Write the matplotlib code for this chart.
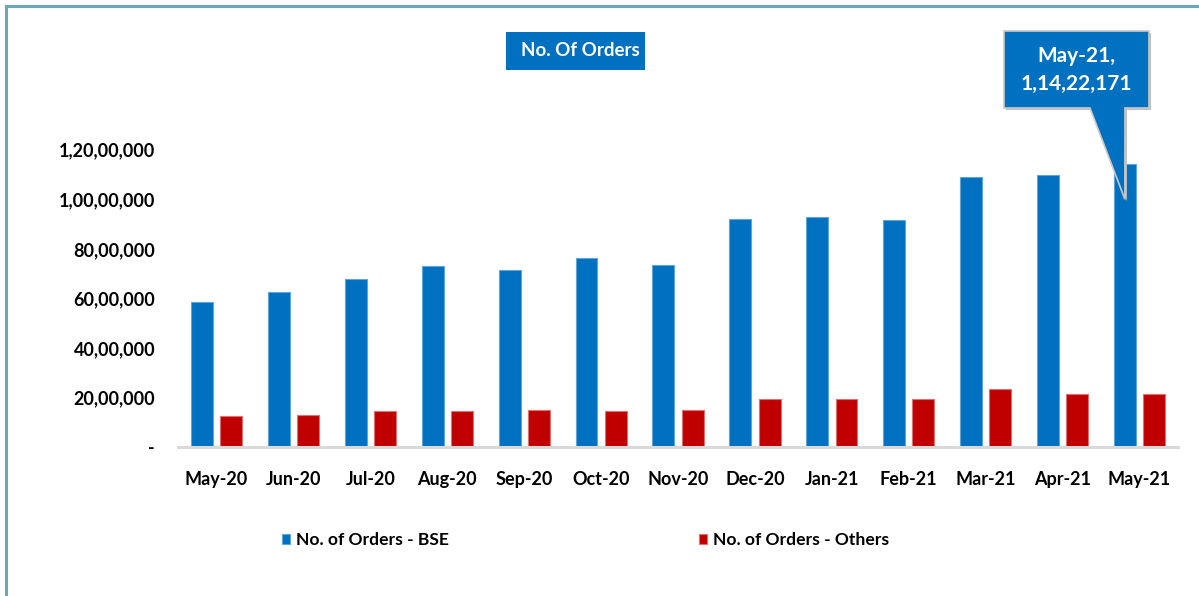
import matplotlib
matplotlib.use("Agg")
import matplotlib.pyplot as plt
from matplotlib.patches import Polygon, Rectangle
from matplotlib.lines import Line2D
from matplotlib.ticker import FuncFormatter, MultipleLocator
import numpy as np

plt.rcParams['font.family'] = ['Lato', 'DejaVu Sans']
plt.rcParams['font.weight'] = 'bold'

months = ["May-20", "Jun-20", "Jul-20", "Aug-20", "Sep-20", "Oct-20", "Nov-20",
          "Dec-20", "Jan-21", "Feb-21", "Mar-21", "Apr-21", "May-21"]
orders_bse = [5850000, 6260000, 6770000, 7300000, 7140000, 7620000, 7350000,
              9220000, 9270000, 9170000, 10900000, 11000000, 11422171]
orders_others = [1250000, 1290000, 1450000, 1450000, 1500000, 1460000, 1520000,
                 1940000, 1940000, 1940000, 2370000, 2160000, 2160000]

BLUE = "#0070C0"
RED = "#C00000"


def indian_format(v, pos=None):
    v = int(round(v))
    if v == 0:
        return "-"
    s = str(v)
    last3, rest = s[-3:], s[:-3]
    groups = []
    while len(rest) > 2:
        groups.insert(0, rest[-2:])
        rest = rest[:-2]
    if rest:
        groups.insert(0, rest)
    return ",".join(groups + [last3])


W, H = 1199, 596
fig = plt.figure(figsize=(W / 100, H / 100), dpi=100)
fig.patch.set_facecolor("white")

ax = fig.add_axes([178 / W, 1 - 447.3 / H, 1000 / W, 297.6 / H])
x = np.arange(len(months))
bw = 0.285
off = 0.19
b1 = ax.bar(x - off, orders_bse, bw, color=BLUE, edgecolor="#5ea5dc", linewidth=0.8,
            label="No. of Orders - BSE", zorder=2)
b2 = ax.bar(x + off, orders_others, bw, color=RED, edgecolor="#e07070", linewidth=0.8,
            label="No. of Orders - Others", zorder=2)

ax.set_xlim(-0.5, len(months) - 0.5)
ax.set_ylim(0, 12000000)
ax.yaxis.set_major_locator(MultipleLocator(2000000))
ax.yaxis.set_major_formatter(FuncFormatter(indian_format))
ax.set_xticks(x)
ax.set_xticklabels(months)
ax.tick_params(axis="y", length=0, pad=16.5, labelsize=13)
ax.tick_params(axis="x", length=0, pad=17, labelsize=13)
for lab in ax.get_xticklabels() + ax.get_yticklabels():
    lab.set_fontweight("bold")
    lab.set_color("black")
for s in ["top", "right", "left"]:
    ax.spines[s].set_visible(False)
ax.spines["bottom"].set_color("#d9d9d9")
ax.spines["bottom"].set_linewidth(2.2)
ax.spines["bottom"].set_zorder(3)

leg = fig.legend(handles=[b1, b2], loc="center left", bbox_to_anchor=(282 / W, 1 - 540 / H),
                 ncol=2, frameon=False, fontsize=12.6, handlelength=0.46, handleheight=0.46,
                 handletextpad=0.34, columnspacing=14.3, borderaxespad=0, borderpad=0)
for t in leg.get_texts():
    t.set_fontweight("bold")

# Title box
fig.patches.append(Rectangle((506 / W, 1 - 70 / H), 139 / W, 38 / H, transform=fig.transFigure,
                             facecolor=BLUE, edgecolor="none", zorder=5))
fig.text(580 / W, 1 - 51 / H, "No. Of Orders", color="white", fontsize=13.5, fontweight="bold",
         ha="center", va="center", zorder=6)

# Callout for the latest month
tip_disp = ax.transData.transform((x[-1] - off, 10000000))
tip_fig = fig.transFigure.inverted().transform(tip_disp)
bx0, bx1 = 1004 / W, 1149 / W
by0, by1 = 1 - 108 / H, 1 - 31 / H
px0, px1 = 1090 / W, 1125 / W
verts = [(bx0, by1), (bx1, by1), (bx1, by0), (px1, by0), tuple(tip_fig), (px0, by0), (bx0, by0)]
shadow = Polygon([(vx + 2 / W, vy - 2 / H) for vx, vy in verts], closed=True,
                 transform=fig.transFigure, facecolor="#bfbfbf", edgecolor="none", zorder=6)
callout = Polygon(verts, closed=True, transform=fig.transFigure, facecolor=BLUE,
                  edgecolor="#c8c8c8", linewidth=1.2, zorder=7)
fig.patches.extend([shadow, callout])
fig.text((bx0 + bx1) / 2, 1 - 70 / H, f"{months[-1]},\n{indian_format(orders_bse[-1])}",
         color="white", fontsize=15, fontweight="bold", ha="center", va="center",
         linespacing=1.45, zorder=8)

# Outer frame (left and top edges)
fig.lines.append(Line2D([6 / W, 6 / W], [0, 1 - 6 / H], transform=fig.transFigure,
                        color="#6ea6b6", linewidth=2.2))
fig.lines.append(Line2D([6 / W, 1], [1 - 6 / H, 1 - 6 / H], transform=fig.transFigure,
                        color="#6ea6b6", linewidth=2.2))

fig.savefig("out.png", dpi=100)
